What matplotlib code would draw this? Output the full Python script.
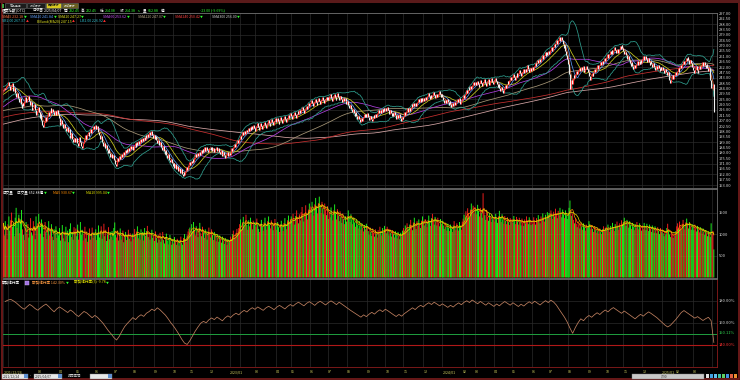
import numpy as np
import pandas as pd
import matplotlib
matplotlib.use('Agg')
import matplotlib.pyplot as plt
from matplotlib.patches import Rectangle

plt.rcParams['font.family'] = ['Noto Sans CJK TC', 'DejaVu Sans']

# ===================================================================
# DATA: TPEx (OTC) index, daily closes, 2021/12/24 .. 2025/04/07
# ===================================================================
# 300 days before the visible window (only used for the long averages)
prefix_close = [
    176, 177, 175, 176, 178, 177, 176, 175, 177, 178, 176, 175, 174, 176, 177, 175, 174, 173, 175,
    176, 177, 178, 177, 179, 180, 179, 181, 180, 182, 181, 180, 182, 183, 182, 184, 183, 182, 184, 185, 183,
    184, 185, 184, 186, 185, 184, 186, 187, 186, 185, 187, 188, 187, 186, 188, 187, 189, 188, 187, 189, 190, 189,
    190, 191, 193, 192, 194, 195, 194, 196, 197, 196, 195, 197, 198, 197, 196, 198, 199, 197, 195, 196,
    198, 200, 202, 201, 203, 205, 204, 206, 205, 203, 204, 202, 201,
    200, 202, 199, 197, 198, 200, 201, 203, 202, 204, 203, 201, 202, 204, 205, 203, 204, 206, 205, 207, 206, 208,
    209, 210, 212, 211, 213, 214, 213, 215, 216, 214, 215, 217, 216, 218, 217, 219, 218, 216, 217, 218,
    217, 215, 212, 208, 203, 196, 188, 185, 190, 193, 195, 194, 197, 196, 198, 200, 199, 201, 200, 202, 203,
    204, 205, 203, 206, 207, 205, 208, 209, 207, 206, 208, 210, 209, 211, 210, 212, 211, 210, 212, 213,
    214, 213, 215, 216, 215, 217, 218, 216, 215, 217, 219, 218, 216, 217, 219, 220, 218, 216, 214, 215, 213, 214,
    212, 214, 213, 211, 209, 207, 205, 206, 208, 207, 209, 210, 208, 210, 211, 213, 212, 214, 213, 215, 214, 213,
    214, 215, 213, 212, 214, 213, 211, 212, 210, 211, 209, 210, 208, 207, 209, 208, 206, 205, 207, 206,
    203, 200, 199, 201, 203, 205, 206, 208, 207, 209, 210, 208, 209, 211, 210, 212, 211, 213, 212,
    214, 216, 215, 217, 218, 217, 219, 220, 218, 219, 221, 220, 222, 221, 223, 222, 224, 223, 225, 224, 223, 225,
    224, 226, 227, 225, 228, 229, 227, 230, 231, 229, 232, 233, 231, 232, 234, 233, 231,
]

close_2021 = [232.1, 234.6, 233.2, 236.4, 237.3]
close_2022 = [
    239.2, 236.1, 232.8, 235.9, 238.4, 235.0, 231.7, 234.6, 230.2, 227.1, 230.5, 226.0, 222.4, 225.8, 221.3, 217.6, 221.9, 219.4,
    223.8, 226.5, 222.9, 225.1, 227.3, 223.6, 219.8, 222.4, 218.1, 215.6, 217.9, 220.6, 216.2, 211.8, 215.3,
    218.6, 213.9, 209.2, 212.7, 207.5, 203.1, 201.4, 206.2, 209.8, 206.5, 211.3, 214.6, 211.0, 215.2, 217.4, 213.8, 216.9, 214.2, 211.5, 215.0, 212.1, 215.6, 212.4,
    209.6, 206.1, 203.5, 207.2, 204.0, 200.6, 203.8, 200.9, 198.2, 201.5, 197.4, 199.8, 195.1, 192.7, 196.3, 192.0, 188.9, 192.4, 189.5,
    192.8, 188.6, 185.9, 190.2, 193.4, 189.1, 185.7, 184.0, 188.3, 191.9, 194.6, 191.2, 195.8, 197.6, 193.9, 197.1, 200.3, 196.8, 199.7, 202.1, 200.4,
    203.2, 199.6, 202.5, 200.8, 197.2, 194.9, 191.6, 193.8, 189.5, 186.1, 188.4, 183.9, 186.7, 182.5, 179.8, 183.0, 180.2, 176.9, 179.1, 175.4, 177.8,
    173.9, 170.6, 168.9, 172.4, 175.8, 173.1, 177.2, 174.6, 178.9, 176.3, 180.5, 178.0, 182.1, 179.6, 183.4, 180.9, 184.2, 181.5, 185.6, 183.1, 186.0,
    182.7, 185.9, 188.4, 185.2, 189.0, 186.3, 190.1, 187.5, 191.6, 188.8, 192.3, 189.6, 193.5, 191.0, 194.9, 192.2, 196.1, 193.4, 197.2, 194.8, 198.0, 195.1, 192.6,
    195.3, 191.8, 194.2, 190.6, 187.9, 190.8, 186.4, 188.9, 185.1, 182.6, 185.7, 181.9, 179.3, 182.4, 178.0, 175.6, 178.8, 174.2, 171.9, 174.6, 171.2,
    168.8, 171.7, 167.5, 170.3, 166.2, 168.9, 164.7, 167.4, 163.5, 166.1, 162.4, 160.8, 163.9, 161.2, 164.6, 167.8, 165.3, 169.4, 172.0,
    169.8, 173.5, 171.2, 175.1, 172.6, 176.9, 179.2, 176.1, 179.8, 177.3, 181.0, 178.4, 182.2, 179.5, 183.1, 180.7, 184.5, 181.8, 185.0, 182.3, 180.6, 183.9,
    185.2, 182.4, 184.9, 181.6, 183.8, 180.9, 183.2, 185.1, 181.7, 184.0, 180.8, 178.9, 182.1, 179.4, 177.2, 180.3, 177.8, 175.9, 178.6, 180.9, 177.5, 179.8,
]
close_2023 = [
    178.4, 181.6, 184.3, 181.9, 185.2, 187.8, 185.1, 188.6, 190.9, 188.2, 191.7,
    194.5, 191.9, 195.3, 197.8, 194.6, 198.1, 196.0, 199.4, 197.2, 200.6, 198.1, 201.9, 199.3, 202.5, 199.8, 203.1, 200.9,
    198.6, 202.2, 204.7, 201.5, 199.2, 202.6, 205.1, 202.3, 199.9, 203.4, 206.2, 203.6, 201.1, 204.5, 207.3, 204.8, 202.5, 205.9, 208.4, 205.7, 203.2, 206.6, 208.9,
    206.2, 209.4, 206.8, 204.5, 207.6, 210.3, 207.5, 205.1, 208.2, 210.9, 208.1, 205.8, 208.7, 211.4, 208.9, 211.8, 213.6,
    210.9, 208.4, 211.7, 214.2, 211.5, 208.9, 212.3, 215.0, 212.4, 215.8, 213.1, 216.4, 218.7, 215.9, 213.6, 217.1, 219.5, 216.8, 219.9, 222.1, 219.3,
    221.8, 224.5, 221.7, 219.3, 222.6, 225.4, 222.8, 220.1, 223.5, 226.2, 223.4, 220.9, 224.1, 226.8, 224.0, 221.6, 224.7, 227.1, 224.3, 226.9,
    224.2, 227.3, 229.1, 226.4, 223.8, 226.9, 229.6, 226.8, 224.2, 227.5, 230.0, 227.1, 224.5, 227.8, 225.0, 222.6, 225.9, 223.1, 226.2, 223.5, 220.8,
    223.4, 219.9, 217.2, 220.1, 216.8, 213.9, 216.7, 213.2, 210.8, 213.9, 210.6, 208.1, 211.3, 208.6, 206.2, 209.4, 206.9, 209.8, 212.5, 209.7, 212.8, 210.1,
    213.0, 210.4, 207.9, 211.1, 208.5, 206.3, 209.2, 212.0, 209.4, 212.6, 210.1, 213.4, 215.9, 213.0, 216.2, 213.7, 216.8, 214.1, 217.3, 214.8,
    217.6, 215.0, 218.3, 215.6, 212.9, 215.8, 213.2, 210.5, 213.6, 211.0, 214.1, 211.4, 208.8, 211.9, 209.3, 212.2, 209.5, 207.1, 210.3, 208.0,
    211.2, 214.0, 211.5, 214.8, 217.3, 214.6, 217.9, 215.2, 218.5, 221.0, 218.3, 221.6, 219.0, 222.2, 219.6, 222.9, 225.1, 222.4, 225.6, 223.0, 226.1, 223.7,
    226.4, 223.8, 227.0, 224.5, 227.8, 230.1, 227.3, 224.9, 228.1, 225.6, 228.8, 231.0, 228.3, 225.8, 229.0, 226.5, 229.6, 231.8, 229.0, 226.7, 229.4,
]
close_2024 = [
    227.1, 224.2, 221.6, 224.5, 222.0, 225.2, 222.6, 220.1, 223.3, 220.8, 218.5, 221.7, 219.2, 222.4, 219.9, 223.0, 225.4, 222.7, 225.8, 223.1, 220.6, 223.9, 226.2,
    228.9, 226.1, 229.5, 232.4, 229.8, 233.1, 235.6, 232.8, 236.0, 233.4, 236.7, 239.2, 236.5,
    239.8, 237.1, 240.3, 237.6, 235.2, 238.4, 241.0, 238.3, 235.9, 239.1, 241.7, 238.9, 236.4, 239.6, 242.1, 239.4, 236.8, 240.0, 242.6, 239.8, 237.5,
    240.6, 243.1, 240.2, 237.8, 234.9, 237.9, 234.6, 232.1, 235.3, 232.7, 230.4, 233.6, 236.9, 234.2, 237.5, 240.3, 237.6, 240.9, 243.5, 240.8,
    243.9, 246.3, 243.5, 240.9, 244.2, 246.8, 244.0, 247.3, 249.6, 246.8, 244.3, 247.6, 250.1, 247.3, 250.6, 248.0, 251.2, 253.4, 250.6, 248.1, 251.3, 249.0,
    252.2, 249.6, 252.9, 255.3, 252.5, 255.8, 258.1, 255.4, 258.7, 256.0, 259.3, 261.7, 258.9, 262.1, 264.4, 261.6, 264.9, 262.2, 265.5,
    263.0, 266.3, 268.6, 265.8, 269.1, 271.5, 268.7, 272.0, 274.3, 271.6, 274.9, 277.1, 274.2, 277.4, 274.6, 271.3, 267.9, 270.6, 265.4, 261.8, 258.3,
    254.7, 246.2, 233.9, 240.8, 237.6, 242.9, 245.6, 242.4, 246.1, 248.8, 245.9, 249.2, 251.5, 248.7, 252.0, 249.3, 252.6, 249.8, 247.4, 250.6, 253.0, 250.2,
    247.8, 244.1, 241.5, 244.8, 247.3, 244.6, 247.9, 250.5, 247.7, 251.0, 253.4, 250.6, 253.9, 256.2, 253.5, 256.8, 254.1, 257.4, 259.6, 256.9,
    260.1, 262.5, 259.8, 263.0, 265.4, 262.6, 265.9, 263.2, 266.5, 268.8, 265.9, 263.4, 266.7, 264.0, 267.3, 269.6, 266.8, 270.1, 268.2,
    265.4, 262.6, 265.0, 261.8, 258.7, 261.5, 258.2, 255.4, 252.6, 255.8, 252.9, 250.4, 253.7, 251.0, 254.3, 256.8, 254.0, 257.2, 254.6, 257.9, 255.3,
    258.5, 261.0, 258.2, 261.4, 258.7, 256.1, 259.3, 256.6, 253.9, 257.1, 254.4, 251.8, 255.0, 252.3, 249.9, 253.1, 250.5, 253.6, 251.0, 248.6, 251.8, 249.3,
]
close_2025 = [
    252.4, 249.7, 247.1, 250.2, 247.5, 244.9, 247.9, 244.3, 241.2, 238.9, 242.3, 245.0, 242.1, 245.4, 247.8,
    245.2, 248.5, 251.0, 248.2, 251.6, 254.0, 251.2, 254.5, 256.9, 254.1, 257.4, 259.8, 257.0, 260.2, 257.5, 254.8, 257.9, 255.2, 252.4,
    249.8, 246.9, 250.1, 252.7, 249.9, 247.3, 250.4, 253.0, 250.2, 253.5, 255.8, 253.0, 256.2, 253.4, 250.9, 254.1, 251.5, 248.8, 251.0, 241.3, 234.2,
    235.1, 237.38, 214.38,
]

# daily turnover (億)
volume_2021 = [1260, 980, 1310, 1150, 890]
volume_2022 = [
    1240, 1420, 1090, 1330, 1510, 1180, 1270, 960, 1390, 1620, 1150, 1280, 1460, 1030, 1350, 1570, 1120, 990,
    870, 1160, 1290, 1010, 1240, 930, 1120, 1380, 1050, 980, 1310, 1190, 890, 1420, 1130,
    1260, 1480, 1170, 1020, 1350, 1210, 940, 1090, 1290, 1060, 890, 1170, 1310, 980, 1080, 1240, 950, 870, 1120, 1010, 1190, 920, 1040,
    980, 1150, 860, 1030, 1220, 910, 1070, 840, 1180, 970, 1090, 820, 1130, 1260, 940, 1050, 880, 1170, 1020,
    1140, 960, 1230, 880, 1050, 1290, 990, 1110, 860, 1020, 1180, 910, 1070, 830, 990, 1140, 880, 1020, 1160, 920, 1050,
    980, 1120, 870, 1040, 1210, 930, 1080, 1190, 900, 1030, 1250, 960, 1110, 850, 1000, 1170, 890, 1060, 940, 1080, 870,
    1150, 1280, 990, 930, 1080, 860, 1010, 1140, 880, 960, 1090, 820, 990, 1060, 870, 950, 1110, 900, 1030, 840, 980,
    1020, 890, 1130, 960, 1070, 1190, 910, 1040, 880, 1120, 990, 1060, 860, 1150, 970, 1080, 1200, 940, 1030, 880, 1010, 1110, 920,
    980, 850, 1070, 920, 810, 990, 880, 1040, 830, 950, 1060, 870, 790, 940, 1020, 860, 770, 910, 990, 840, 760,
    880, 790, 940, 830, 760, 900, 820, 740, 870, 950, 810, 760, 920, 1010, 880, 830, 980, 1070, 1130,
    1160, 1020, 1240, 1080, 1290, 1110, 980, 1190, 1060, 940, 1150, 1270, 1030, 960, 1180, 1050, 920, 1120, 990, 880, 1070, 1160,
    1040, 930, 1120, 990, 870, 1060, 960, 840, 1010, 920, 830, 980, 900, 810, 950, 860, 780, 920, 850, 760, 890, 820,
]
volume_2023 = [
    860, 950, 880, 1010, 1090, 960, 900, 1040, 1130, 1010, 1150,
    1240, 1350, 1120, 1280, 1410, 1170, 1300, 1460, 1220, 1110, 1330, 1190, 1390, 1260, 1120, 1320, 1230,
    1290, 1170, 1370, 1240, 1130, 1060, 1250, 1340, 1180, 1090, 1280, 1390, 1200, 1110, 1310, 1420, 1230, 1140, 1330, 1210, 1100, 1270, 1360,
    1230, 1110, 1290, 1170, 1060, 1240, 1320, 1180, 1080, 1270, 1380, 1220, 1120, 1330, 1440, 1260, 1350,
    1420, 1290, 1480, 1350, 1230, 1430, 1560, 1370, 1260, 1470, 1330, 1520, 1640, 1430, 1300, 1500, 1680, 1460, 1350, 1580, 1720,
    1650, 1480, 1760, 1590, 1440, 1700, 1850, 1620, 1490, 1730, 1880, 1640, 1500, 1760, 1610, 1470, 1720, 1580, 1450, 1660,
    1360, 1520, 1400, 1630, 1470, 1330, 1560, 1700, 1490, 1350, 1590, 1440, 1310, 1540, 1400, 1270, 1490, 1360, 1240, 1420, 1300,
    1430, 1560, 1400, 1290, 1470, 1350, 1240, 1390, 1280, 1180, 1340, 1230, 1140, 1310, 1200, 1110, 1260, 1160, 1070, 1220, 1120, 1250,
    1190, 1080, 990, 1160, 1060, 970, 1140, 1040, 950, 1120, 1020, 930, 1100, 1010, 1180, 1070, 980, 1150, 1050, 1200,
    1130, 1030, 1180, 1080, 980, 1130, 1040, 950, 1100, 1010, 930, 1080, 990, 910, 1060, 970, 890, 1040, 960, 1090,
    1150, 1060, 1210, 1120, 1260, 1160, 1070, 1230, 1340, 1190, 1100, 1280, 1390, 1220, 1130, 1310, 1200, 1350, 1240, 1150, 1320, 1420,
    1310, 1210, 1360, 1260, 1170, 1330, 1440, 1290, 1200, 1380, 1480, 1320, 1230, 1410, 1300, 1210, 1390, 1280, 1190, 1360, 1250,
]
volume_2024 = [
    1320, 1210, 1130, 1280, 1180, 1090, 1250, 1160, 1080, 1230, 1140, 1060, 1210, 1310, 1180, 1100, 1260, 1170, 1090, 1290, 1190, 1110, 1300,
    1370, 1460, 1320, 1540, 1430, 1610, 1500, 1390, 1580, 1720, 1550, 1670, 1490,
    1640, 1580, 1470, 1690, 1550, 1420, 1620, 1500, 1390, 1960, 1570, 1450, 1340, 1520, 1410, 1320, 1490, 1380, 1290, 1460, 1350,
    1410, 1300, 1480, 1360, 1270, 1420, 1550, 1390, 1290, 1470, 1340, 1250, 1430, 1320, 1240, 1400, 1300, 1220, 1380, 1290,
    1360, 1270, 1430, 1330, 1240, 1410, 1310, 1230, 1390, 1290, 1210, 1370, 1280, 1200, 1350, 1260, 1420, 1320, 1240, 1400, 1300, 1220,
    1330, 1240, 1400, 1310, 1230, 1380, 1290, 1450, 1350, 1260, 1420, 1330, 1490, 1390, 1300, 1460, 1370, 1520, 1420,
    1500, 1390, 1560, 1450, 1360, 1530, 1420, 1600, 1480, 1380, 1550, 1440, 1620, 1500, 1400, 1580, 1470, 1380, 1560, 1450, 1360,
    1480, 1620, 1790, 1560, 1430, 1490, 1340, 1260, 1380, 1250, 1170, 1310, 1220, 1140, 1280, 1190, 1110, 1260, 1170, 1090, 1230, 1150,
    1180, 1310, 1240, 1120, 1210, 1130, 1060, 1190, 1110, 1040, 1160, 1090, 1020, 1140, 1070, 1010, 1120, 1190, 1080, 1150,
    1180, 1090, 1230, 1140, 1060, 1200, 1120, 1270, 1170, 1080, 1240, 1150, 1300, 1200, 1110, 1260, 1170, 1330, 1230,
    1290, 1390, 1280, 1200, 1340, 1250, 1160, 1310, 1220, 1130, 1270, 1180, 1100, 1240, 1150, 1290, 1200, 1120, 1260, 1170, 1090,
    1210, 1120, 1270, 1180, 1100, 1250, 1160, 1080, 1230, 1140, 1060, 1210, 1120, 1040, 1190, 1110, 1030, 1170, 1090, 1010, 1150, 1070,
]
volume_2025 = [
    1120, 1030, 960, 1090, 1000, 1150, 1250, 1080, 1000, 940, 1060, 990, 920, 1040, 970,
    1080, 1190, 1260, 1140, 1300, 1190, 1100, 1250, 1340, 1210, 1120, 1280, 1370, 1230, 1140, 1290, 1190, 1110, 1240,
    1180, 1100, 1230, 1150, 1070, 1200, 1120, 1050, 1170, 1090, 1020, 1140, 1060, 990, 1100, 1030, 960, 1070, 1000, 940, 1260,
    1010, 1080, 653,
]

# margin maintenance ratio (%), one reading every 3 trading days, last one on 2025/04/07
margin_ratio = [
    179.6, 180.8, 181.5, 180.1, 178.4, 176.2, 174.0, 172.5, 174.8, 176.9,
    175.3, 173.1, 171.6, 173.8, 175.7, 177.2, 175.0, 172.4, 170.2, 172.9,
    174.6, 173.0, 171.2, 169.5, 171.8, 170.1, 167.6, 165.9, 168.3, 170.5,
    169.2, 167.0, 164.8, 166.9, 165.1, 162.4, 159.8, 156.3, 152.9, 150.1,
    146.8, 144.5, 147.9, 152.6, 156.8, 159.7, 162.3, 164.9, 163.1, 165.8,
    167.5, 166.0, 168.9, 170.4, 172.6, 171.2, 173.8, 172.0, 169.5, 167.1,
    163.8, 160.2, 157.1, 153.5, 149.6, 145.3, 141.8, 140.5, 143.9, 148.2,
    152.7, 156.4, 159.8, 161.5, 160.2, 162.9, 164.6, 163.1, 165.4, 163.7,
    162.0, 164.8, 166.5, 165.0, 167.3, 168.9, 167.4, 169.8, 171.5, 170.0,
    172.3, 173.9, 172.4, 174.6, 173.0, 171.5, 173.7, 175.2, 173.8, 172.1,
    174.4, 176.0, 174.5, 172.8, 175.1, 176.8, 175.3, 177.4, 178.9, 177.2,
    175.6, 177.9, 179.4, 177.8, 176.0, 178.3, 179.8, 178.1, 176.4, 178.6,
    180.1, 178.5, 176.7, 178.9, 177.2, 175.4, 173.6, 171.8, 170.2, 168.5,
    166.9, 165.3, 167.4, 165.8, 168.0, 169.7, 168.1, 170.4, 172.0, 170.3,
    172.5, 171.0, 169.2, 167.5, 165.9, 167.8, 166.2, 168.5, 170.3, 172.1,
    173.8, 172.2, 174.5, 176.1, 174.6, 176.9, 178.4, 176.8, 178.9, 177.3,
    175.6, 177.4, 175.9, 174.2, 176.1, 174.5, 176.7, 178.3, 176.6, 178.8,
    180.2, 178.6, 180.9, 179.2, 177.5, 179.6, 177.9, 176.2, 178.4, 176.8,
    175.1, 177.3, 175.6, 177.8, 179.5, 177.9, 176.2, 178.4, 176.7, 175.0,
    177.1, 175.4, 177.6, 179.3, 177.7, 179.8, 178.1, 176.4, 178.5, 180.3,
    178.6, 180.7, 179.0, 176.3, 172.5, 168.9, 165.2, 160.8, 155.4, 150.6,
    155.9, 160.3, 163.8, 162.1, 165.0, 166.8, 165.2, 167.5, 169.3, 167.7,
    170.0, 171.8, 170.1, 172.4, 174.0, 172.3, 170.6, 168.8, 170.9, 169.2,
    167.4, 165.6, 163.8, 166.0, 167.9, 166.2, 168.4, 170.1, 168.5, 166.7,
    164.9, 162.6, 160.3, 158.1, 156.4, 157.9, 160.5, 163.2, 166.4, 169.5,
    171.3, 169.6, 167.8, 166.1, 164.4, 165.8, 164.0, 162.3, 163.9, 165.2,
    162.1, 142.3,
]
margin_green = 150.11
margin_red = 140.00

# trading days per month and the month labels under the chart
month_days = [5,
              18, 15, 23, 19, 21, 21, 21, 23, 21, 19, 22, 22,
              11, 17, 23, 17, 21, 20, 21, 22, 20, 20, 22, 21,
              23, 13, 21, 20, 22, 19, 21, 22, 20, 19, 21, 22,
              15, 19, 21, 3]
month_labels = ['2021/12/24',
                '', '', '03', '04', '05', '06', '07', '08', '09', '10', '11', '12',
                '2023/01', '', '03', '04', '05', '06', '07', '08', '09', '10', '11', '12',
                '2024/01', '02', '03', '04', '05', '06', '07', '08', '09', '10', '11', '12',
                '2025/01', '02', '03', '']

price_ticks = np.arange(153.0, 297.1, 4.5)
volume_ticks = [500, 1000, 1500]
margin_ticks = [160, 180]

# ===================================================================
# DERIVED SERIES
# ===================================================================
close = np.array(close_2021 + close_2022 + close_2023 + close_2024 + close_2025)
volume = np.array(volume_2021 + volume_2022 + volume_2023 + volume_2024 + volume_2025)
n = len(close)
x = np.arange(n)
npre = len(prefix_close)
full = pd.Series(np.r_[np.array(prefix_close, float), close])

sma = {p: full.rolling(p, min_periods=1).mean().values[npre:] for p in [5, 10, 20, 60, 120, 240, 300]}
bb_std = full.rolling(20).std(ddof=0).values[npre:]
bb_up = sma[20] + 2 * bb_std
bb_lo = sma[20] - 2 * bb_std

opens = np.r_[prefix_close[-1], close[:-1]]
up = close >= opens
vol_s = pd.Series(volume, dtype=float)
vma5 = vol_s.rolling(5, min_periods=1).mean().values
vma10 = vol_s.rolling(10, min_periods=1).mean().values

margin_x = (n - 1) - 3 * np.arange(len(margin_ratio))[::-1]
month_start = np.r_[0, np.cumsum(month_days)[:-1]]

# ===================================================================
# FIGURE
# ===================================================================
W, H = 740, 380
fig = plt.figure(figsize=(W / 100, H / 100), dpi=100, facecolor='black')
renderer = fig.canvas.get_renderer()

BG = '#000000'
GRID = '#2b2b2b'
TXT = '#d8d8d8'
GREEN = '#30ff30'
FS = 2.9
LFS = 2.6


def px_axes(x0, y0, x1, y1):
    ax = fig.add_axes([x0 / W, 1 - y1 / H, (x1 - x0) / W, (y1 - y0) / H])
    ax.set_facecolor(BG)
    ax.set_xlim(-0.5, 788.5)
    ax.yaxis.tick_right()
    ax.tick_params(axis='y', length=0, pad=1.5, labelsize=FS, labelcolor=TXT)
    ax.tick_params(axis='x', length=0, labelbottom=False)
    ax.set_xticks(month_start)
    ax.grid(True, axis='x', color=GRID, lw=0.5)
    for sp in ax.spines.values():
        sp.set_color('#6e6e6e')
        sp.set_linewidth(0.6)
    ax.spines['left'].set_visible(False)
    return ax


def ftxt(x0, y0, s, color=TXT, size=FS, **kw):
    return fig.text(x0 / W, 1 - y0 / H, s, color=color, fontsize=size, ha='left', va='center', **kw)


def text_row(y0, items, size=LFS, gap=1.5):
    # items: (text, wanted x, colour, arrow or None, arrow colour); never lets two items touch
    x_end = -10
    for s, x_want, color, arrow, acolor in items:
        t = ftxt(max(x_want, x_end + gap), y0, s, color=color, size=size)
        x_end = t.get_window_extent(renderer).x1
        if arrow:
            a = ftxt(x_end + 0.5, y0, arrow, color=acolor, size=size * 0.8)
            x_end = a.get_window_extent(renderer).x1


# ---------------- main price panel ----------------
ax1 = px_axes(3, 13, 717, 188)
ax1.set_ylim(150.5, 297.3)
ax1.set_yticks(price_ticks)
ax1.set_yticklabels([f'{v:.2f}' for v in price_ticks])
for v in price_ticks[::2]:
    ax1.axhline(v, color=GRID, lw=0.5, zorder=0)

ax1.plot(x, sma[300], color='#d8a8a8', lw=0.55, zorder=2)
ax1.plot(x, sma[240], color='#c83030', lw=0.55, zorder=2)
ax1.plot(x, sma[120], color='#a89878', lw=0.55, zorder=2)
ax1.plot(x, sma[60], color='#b040e0', lw=0.55, zorder=2)
ax1.plot(x, bb_up, color='#2e9e8e', lw=0.55, zorder=2)
ax1.plot(x, bb_lo, color='#2e9e8e', lw=0.55, zorder=2)
ax1.plot(x, sma[20], color='#c8c820', lw=0.55, zorder=2)
ax1.plot(x, sma[10], color='#5fa0ff', lw=0.5, zorder=2)
ax1.plot(x, sma[5], color='#ff7040', lw=0.5, zorder=2)

ax1.vlines(x[up], opens[up], close[up], color='#ff3030', lw=0.8, zorder=3)
ax1.vlines(x[~up], close[~up], opens[~up], color='#f0f0f0', lw=0.8, zorder=3)

# ---------------- volume panel ----------------
ax2 = px_axes(3, 189, 717, 278)
ax2.set_ylim(-12, 2058)
ax2.set_yticks(volume_ticks)
ax2.set_yticklabels([str(v) for v in volume_ticks])
for v in volume_ticks:
    ax2.axhline(v, color=GRID, lw=0.5, zorder=0)
bars = ax2.bar(x, volume, width=1.0, color=np.where(up, '#ff2020', '#20ff20'), linewidth=0, zorder=2)
for b in bars:
    b.set_snap(False)
ax2.plot(x, vma5, color='#ff8c00', lw=0.5, zorder=3)
ax2.plot(x, vma10, color='#e0e000', lw=0.5, zorder=3)

# ---------------- margin ratio panel ----------------
ax3 = px_axes(3, 279, 717, 367)
ax3.set_ylim(120, 200)
ax3.set_yticks(margin_ticks)
ax3.set_yticklabels([f'{v:.2f}%' for v in margin_ticks])
for v in margin_ticks:
    ax3.axhline(v, color=GRID, lw=0.5, zorder=0)
ax3.axhline(margin_green, color='#1f9f3f', lw=0.7, zorder=2)
ax3.axhline(margin_red, color='#b01818', lw=0.8, zorder=2)
ax3.plot(margin_x, margin_ratio, color='#c08060', lw=0.55, zorder=3)
for sp in ['right', 'bottom']:
    ax3.spines[sp].set_color('#8c1c1c')
ax3.tick_params(axis='x', labelbottom=True, pad=2.2, labelsize=2.6, labelcolor='#d0d060')
ax3.set_xticklabels(month_labels)
for lab in ax3.get_xticklabels():
    lab.set_ha('left')
ftxt(719, 333, f'{margin_green:.2f}%', color='#30d050')
ftxt(719, 345, f'{margin_red:.2f}%', color='#ff3030')

# ===================================================================
# CHROME: borders, tabs, header texts, toolbar
# ===================================================================
fig.add_artist(Rectangle((1.5 / W, 1.5 / H), (W - 3) / W, (H - 3) / H, transform=fig.transFigure,
                         fill=False, edgecolor='#7a1c1c', lw=1.2))
fig.add_artist(Rectangle((0, 1 - 2.5 / H), 1, 2.5 / H, transform=fig.transFigure,
                         facecolor='#5a1a1a', edgecolor='none'))

tabs = [('商品選擇', 5, 26, '#1c1c1c', '#c0c0c0'), ('技術分析', 27, 45, '#1c1c1c', '#c0c0c0'),
        ('籌碼分析', 46, 61, '#d8c820', '#101010'), ('技術分析', 62, 78, '#6a6020', '#e0e0e0')]
for name, a, b, bg, fg in tabs:
    fig.add_artist(Rectangle((a / W, 1 - 8 / H), (b - a) / W, 5 / H, transform=fig.transFigure,
                             facecolor=bg, edgecolor='#707070', lw=0.4))
    fig.text((a + b) / 2 / W, 1 - 5.5 / H, name, color=fg, fontsize=2.1, ha='center', va='center')
fig.add_artist(Rectangle((1.5 / W, 1 - 7.5 / H), 2.5 / W, 3.5 / H, transform=fig.transFigure,
                         facecolor='#40a040', edgecolor='none'))

text_row(10.5, [('櫃買指數(OTC)', 2, 'white', None, None), ('日線圖', 32, 'white', None, None),
                ('2025/04/07', 42, 'white', None, None), ('開', 62, 'white', None, None),
                ('232.45', 66, GREEN, None, None), ('高', 80, 'white', None, None),
                ('232.45', 84, GREEN, None, None), ('低', 100, 'white', None, None),
                ('214.08', 104, GREEN, None, None), ('收', 120, 'white', None, None),
                ('214.38', 124, GREEN, None, None), ('s', 138, GREEN, None, None),
                ('量', 143, 'white', None, None), ('652.88', 147, GREEN, None, None),
                ('億', 161, 'white', None, None), ('-23.00 (-9.69%)', 200, GREEN, None, None)], gap=1.2)

text_row(16.5, [('SMA5 232.18', 2, '#ff7040', '▼', GREEN), ('SMA10 241.84', 30, '#5fa0ff', '▼', GREEN),
                ('SMA20 247.27', 55, '#e0e020', '▼', GREEN), ('SMA60 253.62', 103, '#d050ff', '▼', GREEN),
                ('SMA120 247.07', 138, '#b8a888', '▼', GREEN), ('SMA240 250.42', 175, '#ff4040', '▼', GREEN),
                ('SMA300 256.00', 212, '#d0d0d0', '▼', GREEN)])
text_row(21.5, [('SB2.00 267.37', 2, '#30c0d0', '▲', '#ff3030'),
                ('BBand(MA20) 247.15', 37, '#e0e020', '▲', '#ff3030'),
                ('LB2.00 226.92', 80, '#30c0d0', '▲', '#ff3030')])

text_row(193, [('成交量', 3, 'white', None, None), ('成交量 652.88億', 17, 'white', '▼', GREEN),
               ('MA5 930.67', 53, '#ff8c00', '▼', GREEN), ('MA10 995.04', 86, '#e0e000', '▼', GREEN)])

fig.add_artist(Rectangle((25 / W, 1 - 284.5 / H), 3.5 / W, 3.5 / H, transform=fig.transFigure,
                         facecolor='#a070e0', edgecolor='#d0b0ff', lw=0.3))
text_row(282.5, [('融資維持率', 2, 'white', None, None), ('融資維持率 142.30%', 32, '#ff9a40', '▼', GREEN),
                 ('融資維持率(5) -9.78', 74, '#e0e000', '▼', GREEN)])

# bottom toolbar
boxes = [(2, 28, '2021/12/24'), (34, 62, '2025/04/07'), (90, 112, '')]
for a, b, s in boxes:
    fig.add_artist(Rectangle((a / W, 1 - 378.5 / H), (b - a) / W, 5 / H, transform=fig.transFigure,
                             facecolor='#e8e8e8', edgecolor='#808080', lw=0.3))
    fig.text((a + 1) / W, 1 - 376 / H, s, color='#202020', fontsize=2.3, ha='left', va='center')
    fig.add_artist(Rectangle(((b - 4) / W, 1 - 378 / H), 3.5 / W, 4 / H, transform=fig.transFigure,
                             facecolor='#6090d0', edgecolor='none'))
ftxt(29.5, 376, '-', color='white', size=2.4)
ftxt(68, 376, '時間區間', color='#d0d0d0', size=2.4)
fig.add_artist(Rectangle((632 / W, 1 - 378.5 / H), 72 / W, 5 / H, transform=fig.transFigure,
                         facecolor='#c8c8c8', edgecolor='#808080', lw=0.3))
fig.text(664 / W, 1 - 376 / H, '7/90', color='#303030', fontsize=2.4, ha='center', va='center')
for i, c in enumerate(['#e0e0e0', '#40a0e0', '#60c0f0', '#40c0a0', '#60d060', '#4090e0', '#e06040', '#f09030']):
    fig.add_artist(Rectangle(((706 + i * 4) / W, 1 - 378 / H), 3.2 / W, 4 / H, transform=fig.transFigure,
                             facecolor=c, edgecolor='none'))

fig.savefig('out.png', dpi=100, facecolor='black')
